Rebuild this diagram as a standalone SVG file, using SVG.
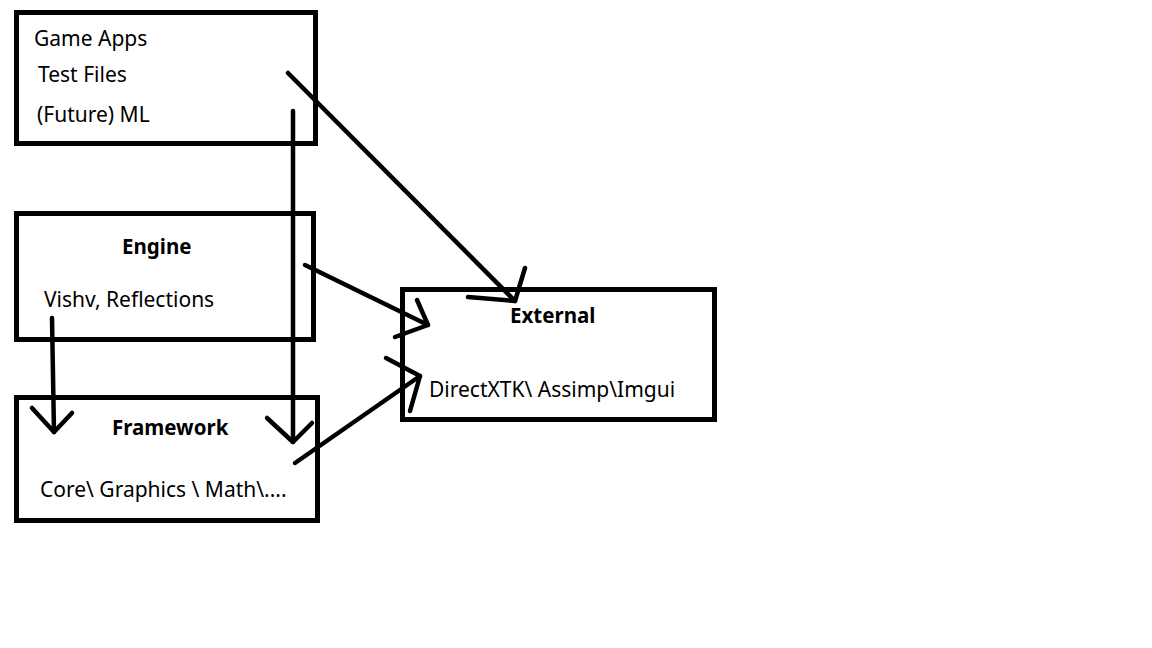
<svg xmlns="http://www.w3.org/2000/svg" width="1152" height="648" viewBox="0 0 1152 648">
<style>
.box{fill:none;stroke:#000;stroke-width:5}
.t{font-family:"Noto Sans","Open Sans",sans-serif;font-size:21px;fill:#000}
.b{font-weight:bold;font-size:20.5px}
.c line,.c polyline{stroke:#000;stroke-width:4.5;fill:none;stroke-linecap:round;stroke-linejoin:round}
</style>
<rect width="1152" height="648" fill="#fff"/>
<g id="apps">
<rect class="box" x="16.5" y="12.5" width="299" height="131"/>
<text class="t" x="34" y="46">Game Apps</text>
<text class="t" x="38" y="82">Test Files</text>
<text class="t" x="37" y="122">(Future) ML</text>
</g>
<g id="engine">
<rect class="box" x="16.5" y="213.5" width="297" height="126"/>
<text class="t b" x="122" y="254">Engine</text>
<text class="t" x="44" y="307">Vishv, Reflections</text>
</g>
<g id="framework">
<rect class="box" x="16.5" y="397.5" width="301" height="123"/>
<text class="t b" x="112" y="435">Framework</text>
<text class="t" x="40" y="497">Core\ Graphics \ Math\....</text>
</g>
<g id="external">
<rect class="box" x="402.5" y="289.5" width="312" height="130"/>
<text class="t b" x="510" y="323">External</text>
<text class="t" x="429" y="397">DirectXTK\ Assimp\Imgui</text>
</g>
<g class="c" id="connectors">
<line x1="288" y1="73" x2="515" y2="301"/>
<polyline points="468,297 515,301 525,268"/>
<line x1="293" y1="111" x2="293" y2="442"/>
<polyline points="267,418 293,442 312,423"/>
<line x1="52" y1="318" x2="54" y2="432"/>
<polyline points="32,408 54,432 72,413"/>
<line x1="305" y1="265" x2="428" y2="325"/>
<polyline points="417,300 428,325 395,337"/>
<line x1="295" y1="463" x2="420" y2="376"/>
<polyline points="386,358 420,376 410,411"/>
</g>
</svg>
